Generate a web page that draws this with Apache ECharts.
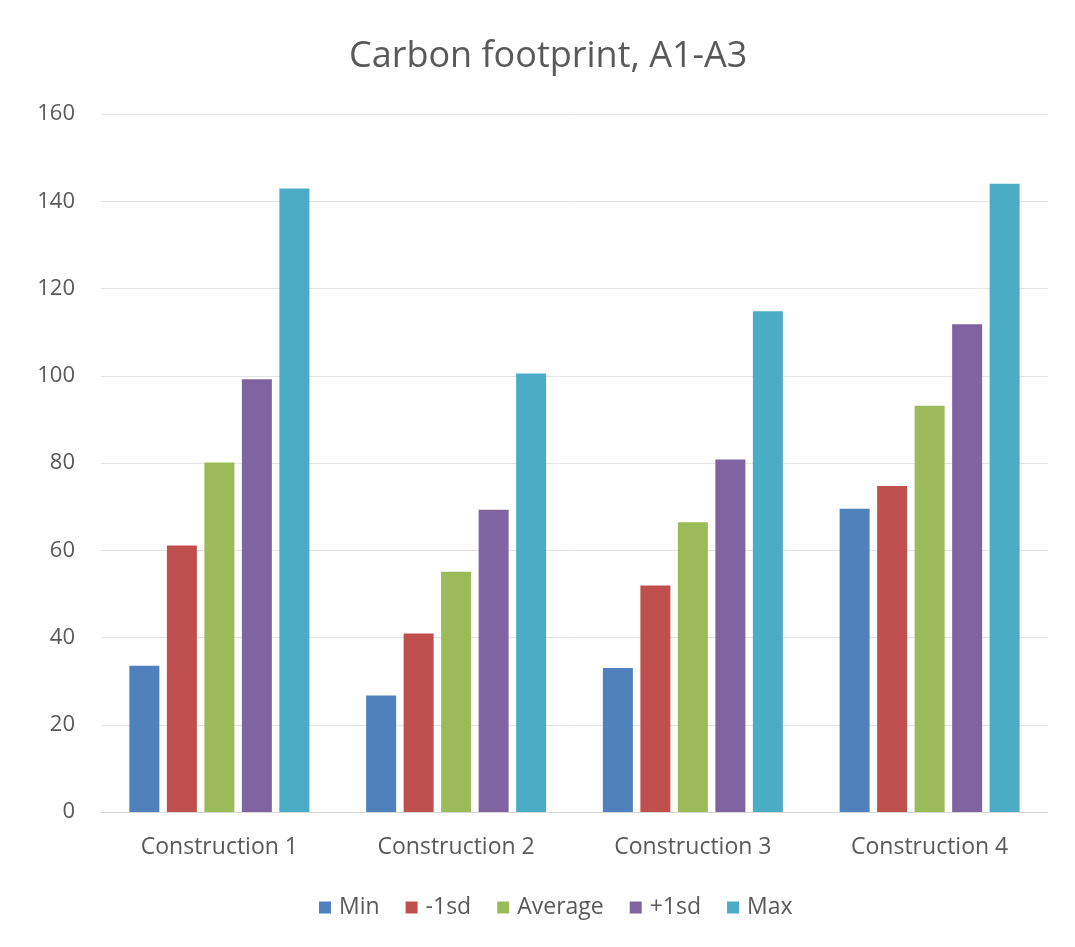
<!DOCTYPE html>
<html>
<head>
<meta charset="utf-8">
<script src="https://cdn.jsdelivr.net/npm/echarts@6/dist/echarts.min.js"></script>
<style>
  html, body { margin: 0; padding: 0; background: #ffffff; }
  #chart { width: 1075px; height: 947px; }
</style>
</head>
<body>
<div id="chart"></div>
<script>
// Constructions compared, and the spread of their A1-A3 carbon footprint
const categories = ['Construction 1', 'Construction 2', 'Construction 3', 'Construction 4'];
const seriesNames = ['Min', '-1sd', 'Average', '+1sd', 'Max'];
const minValues = [33.5, 26.7, 33.0, 69.5];
const minus1sdValues = [61.1, 40.9, 51.9, 74.7];
const averageValues = [80.1, 55.1, 66.4, 93.1];
const plus1sdValues = [99.2, 69.3, 80.8, 111.8];
const maxValues = [142.9, 100.5, 114.8, 144.0];
const colors = ['#4F81BD', '#C0504D', '#9BBB59', '#8064A2', '#4BACC6'];

const valueSets = [minValues, minus1sdValues, averageValues, plus1sdValues, maxValues];
const font = '"Open Sans", "Noto Sans", sans-serif';

const chart = echarts.init(document.getElementById('chart'), null, { renderer: 'canvas' });
chart.setOption({
  animation: false,
  backgroundColor: '#ffffff',
  color: colors,
  title: {
    text: 'Carbon footprint, A1-A3',
    left: 344,
    top: 34,
    textStyle: { fontFamily: font, fontSize: 36, fontWeight: 'normal', color: '#595959' }
  },
  legend: {
    bottom: 23,
    left: 314,
    itemWidth: 12,
    itemHeight: 12,
    itemGap: 26,
    icon: 'rect',
    textStyle: { fontFamily: font, fontSize: 23, color: '#595959', padding: [0, 0, 0, 3] },
    data: seriesNames
  },
  grid: { left: 101, right: 27, top: 114, bottom: 135, containLabel: false },
  xAxis: {
    type: 'category',
    data: categories,
    axisLine: { show: true, lineStyle: { color: '#d9d9d9', width: 1 } },
    axisTick: { show: false },
    axisLabel: { fontFamily: font, fontSize: 23, color: '#595959', margin: 24 }
  },
  yAxis: {
    type: 'value',
    min: 0,
    max: 160,
    interval: 20,
    axisLine: { show: false },
    axisTick: { show: false },
    splitLine: { lineStyle: { color: '#e3e3e3', width: 1 } },
    axisLabel: { fontFamily: font, fontSize: 22, color: '#595959', margin: 26 }
  },
  series: seriesNames.map((name, i) => ({
    name: name,
    type: 'bar',
    data: valueSets[i],
    barWidth: 30,
    barGap: '25%',
    itemStyle: { color: colors[i] }
  }))
});
</script>
</body>
</html>
